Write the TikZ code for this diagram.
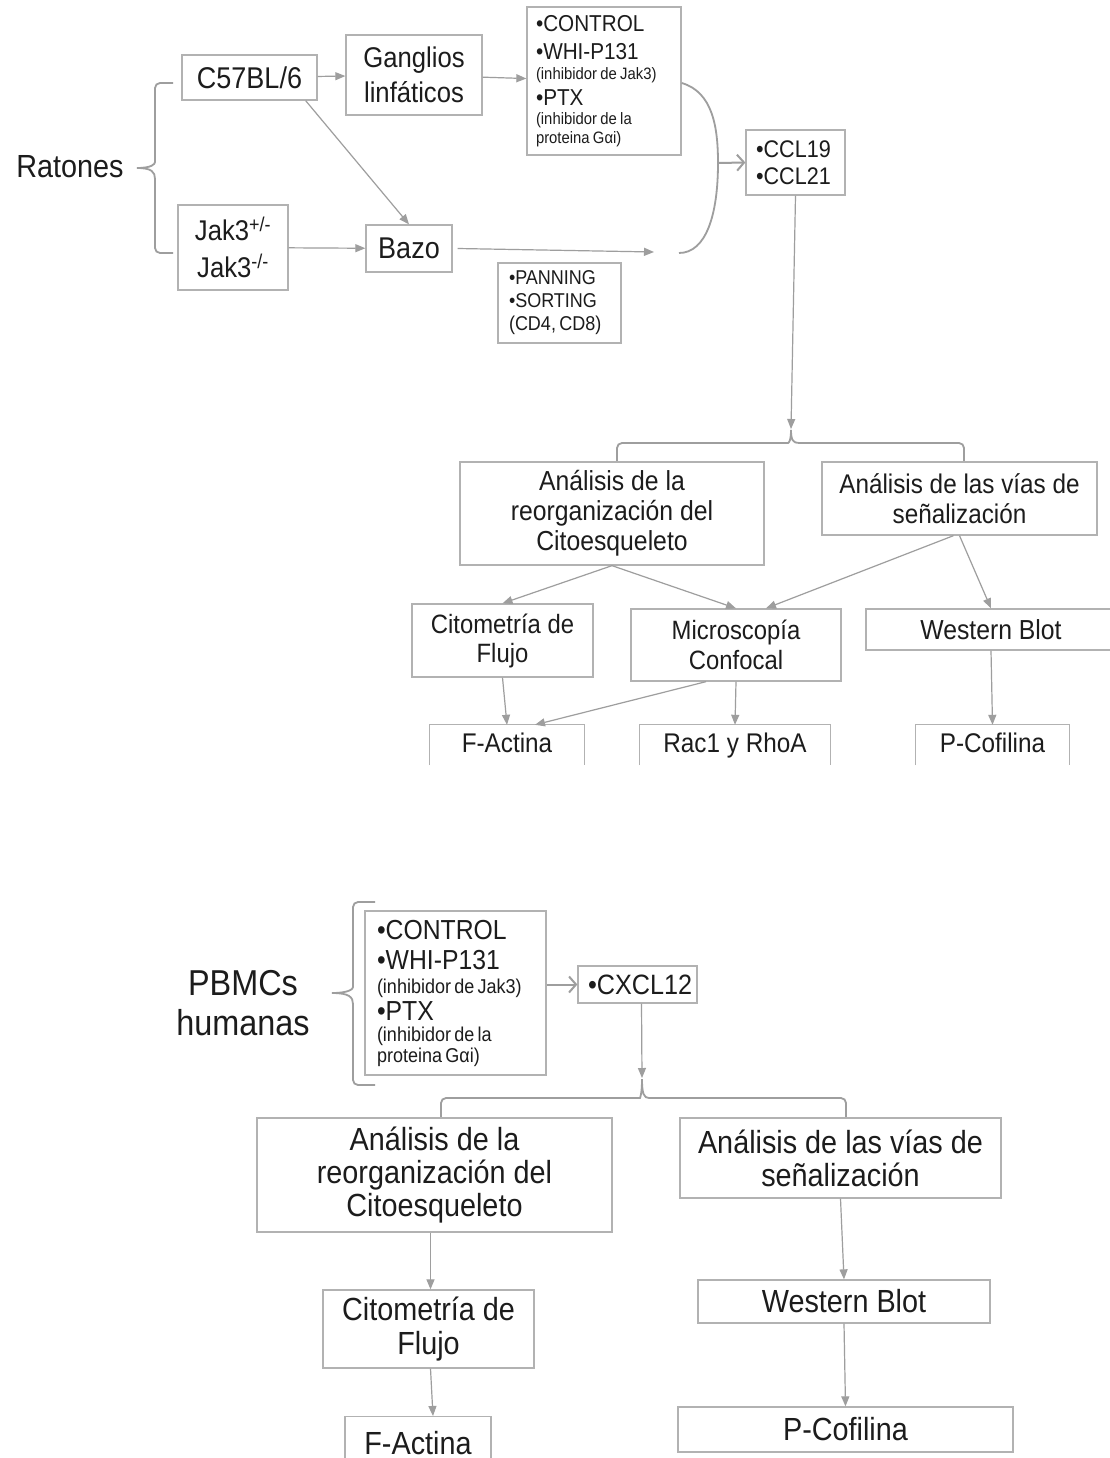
\documentclass[tikz,border=0pt]{standalone}
\usepackage{fontspec}
\setmainfont{Liberation Sans}[FakeStretch=0.9]
\usetikzlibrary{arrows.meta, calc}
\definecolor{boxgray}{RGB}{178,178,178}
\definecolor{linegray}{RGB}{158,158,158}
\definecolor{inkdark}{RGB}{28,28,28}
\newcommand{\fz}[2]{\fontsize{#1pt}{#2pt}\selectfont}
\setlength{\parindent}{0pt}

\begin{document}
\begin{tikzpicture}[x=1pt, y=-1pt,
    box/.style={draw=boxgray, line width=1.3pt, inner sep=3pt,
                align=center, text=inkdark},
    cutbox/.style={inner sep=3pt, align=center, text=inkdark,
                   text height=20pt, text depth=6pt},
    listbox/.style={box, align=left},
    boxline/.style={draw=boxgray, line width=1.3pt},
    arrow/.style={-{Triangle[length=10pt,width=8pt]}, linegray, line width=1.2pt},
    chev/.style={-{Straight Barb[length=7pt,width=16pt]}, linegray, line width=2pt},
    curve/.style={linegray, line width=1.8pt},
    bracket/.style={linegray, line width=1.8pt}]
  \useasboundingbox (0,0) rectangle (1110,1458);
  \clip (0,0) rectangle (1110,1458);
  \fill[white] (0,0) rectangle (1110,1458);

  % ratones
  \node[text=inkdark, font=\fz{32}{36}] (rat) at (70,167) {Ratones};
  \draw[bracket] (173,83) [rounded corners=5pt] -- (155,83) -- (155,157) [sharp corners]
        .. controls (155,164) and (152,168) .. (137,168)
        .. controls (152,168) and (155,172) .. (155,179) [rounded corners=5pt]
        -- (155,253) -- (173,253);
  \node[box, minimum width=135pt, minimum height=45pt, font=\fz{30}{32}]
       (c57) at (249.5,77.5) {C57BL/6};
  \node[box, minimum width=136pt, minimum height=80pt, font=\fz{28.5}{35}]
       (gang) at (414,75) {Ganglios\\linfáticos};
  \node[box, minimum width=110pt, minimum height=85pt, font=\fz{28.5}{37}]
       (jak) at (233,247.5) {Jak3\textsuperscript{+/-}\\Jak3\textsuperscript{-/-}};
  \node[box, minimum width=86pt, minimum height=47pt, font=\fz{30}{32}]
       (bazo) at (409,248.5) {Bazo};
  \node[listbox, text width=136pt, inner xsep=9pt, minimum height=148pt]
       (trt) at (604,81)
       {{\fz{23}{27}•CONTROL\par}{\fz{23}{28}•WHI-P131\par}%
        {\fz{16.5}{20}(inhibidor de Jak3)\par}{\fz{23}{26}•PTX\par}%
        {\fz{16.5}{19}(inhibidor de la\newline proteina Gαi)\par}};
  \node[listbox, text width=79pt, inner xsep=10pt, minimum height=65pt]
       (ccl) at (795.5,162.5)
       {{\fz{24}{27}•CCL19\par}{\fz{24}{27}•CCL21\par}};
  \node[listbox, text width=101pt, inner xsep=11pt, minimum height=80pt]
       (pan) at (559.5,303)
       {{\fz{20}{23}•PANNING\newline •SORTING\newline (CD4, CD8)\par}};

  \coordinate (bzend) at (654,252);
  \coordinate (join) at (679,253);
  \coordinate (mid) at (718,163);
  \coordinate (ctip) at (791,429);

  \draw[arrow] (c57) -- (gang);
  \draw[arrow] (gang) -- (trt);
  \draw[arrow] ([xshift=-12pt]c57.south east) -- (bazo.north);
  \draw[arrow] (jak) -- (bazo);
  \draw[arrow] ([xshift=5pt]bazo.east) -- (bzend);
  \draw[curve] ([yshift=-2pt]trt.east) .. controls (713,92) and (718,128) .. (mid)
               .. controls (718,215) and (706,253) .. (join);
  \draw[chev] (mid) -- (ccl.west);
  \draw[arrow] (ccl.south) -- (ctip);
  \draw[bracket] (617,462) [rounded corners=5pt] -- (617,443) -- (783,443) [sharp corners]
        .. controls (789,443) and (791,440) .. (791,430)
        .. controls (791,440) and (793,443) .. (799,443) [rounded corners=5pt]
        -- (964,443) -- (964,462);

  % analisis ratones
  \node[box, minimum width=304pt, minimum height=103pt, font=\fz{27.5}{30}]
       (reorg) at (612,513.5) {Análisis de la\\reorganización del\\Citoesqueleto};
  \node[box, minimum width=275pt, minimum height=73pt, font=\fz{27}{30}]
       (vias) at (959.5,498.5) {Análisis de las vías de\\señalización};
  \node[box, minimum width=181pt, minimum height=73pt, font=\fz{26.5}{29}]
       (cito) at (502.5,640.5) {Citometría de\\Flujo};
  \node[box, minimum width=210pt, minimum height=72pt, font=\fz{26.5}{30}]
       (micro) at (736,645) {Microscopía\\Confocal};
  \node[box, minimum width=250pt, minimum height=41pt, font=\fz{27.5}{30}]
       (wb) at (991,629.5) {Western Blot};
  \node[cutbox, minimum width=154pt, minimum height=40pt, font=\fz{27}{29}]
       (fact) at (507,745) {F-Actina};
  \node[cutbox, minimum width=190pt, minimum height=40pt, font=\fz{27}{29}]
       (rac) at (735,745) {Rac1 y RhoA};
  \node[cutbox, minimum width=153pt, minimum height=40pt, font=\fz{27}{29}]
       (pcof) at (992.5,745) {P-Cofilina};
  \draw[boxline] (fact.south west) |- (fact.north east) -- (fact.south east);
  \draw[boxline] (rac.south west) |- (rac.north east) -- (rac.south east);
  \draw[boxline] (pcof.south west) |- (pcof.north east) -- (pcof.south east);

  \draw[arrow] (reorg.south) -- (cito.north);
  \draw[arrow] (reorg.south) -- (micro.north);
  \draw[arrow] ([xshift=-6pt]vias.south) -- ([xshift=30pt]micro.north);
  \draw[arrow] (vias.south) -- (wb.north);
  \draw[arrow] (cito.south) -- (fact.north);
  \draw[arrow] ([xshift=-30pt]micro.south) -- ([xshift=28pt]fact.north);
  \draw[arrow] (micro.south) -- (rac.north);
  \draw[arrow] (wb.south) -- (pcof.north);

  % pbmcs
  \node[text=inkdark, align=center, font=\fz{36}{40}] (pbmc) at (243,1003)
       {PBMCs\\humanas};
  \draw[bracket] (375,902) [rounded corners=5pt] -- (353,902) -- (353,982) [sharp corners]
        .. controls (353,989) and (349,993) .. (332,993)
        .. controls (349,993) and (353,997) .. (353,1004) [rounded corners=5pt]
        -- (353,1085) -- (375,1085);
  \node[listbox, text width=157pt, inner xsep=12pt, minimum height=164pt]
       (trt2) at (455.5,993)
       {{\fz{27.5}{30}•CONTROL\par}{\fz{27.5}{30}•WHI-P131\par}%
        {\fz{20}{24}(inhibidor de Jak3)\par}{\fz{27.5}{27}•PTX\par}%
        {\fz{20}{21}(inhibidor de la\newline proteina Gαi)\par}};
  \node[listbox, text width=99pt, inner xsep=10pt, minimum height=37pt,
        font=\fz{28}{30}] (cxcl) at (637.5,984.5) {•CXCL12};
  \coordinate (ctip2) at (642,1078);
  \draw[chev] (trt2.east |- cxcl.west) -- (cxcl.west);
  \draw[arrow] ([xshift=4pt]cxcl.south) -- (ctip2);
  \draw[bracket] (441,1118) [rounded corners=5pt] -- (441,1098) -- (635,1098) [sharp corners]
        .. controls (640,1098) and (642,1094) .. (642,1079)
        .. controls (642,1094) and (644,1098) .. (649,1098) [rounded corners=5pt]
        -- (846,1098) -- (846,1118);

  \node[box, minimum width=355pt, minimum height=114pt, font=\fz{32}{33}]
       (reorg2) at (434.5,1175) {Análisis de la\\reorganización del\\Citoesqueleto};
  \node[box, minimum width=321pt, minimum height=80pt, font=\fz{32}{33}]
       (vias2) at (840.5,1158) {Análisis de las vías de\\señalización};
  \node[box, minimum width=211pt, minimum height=78pt, font=\fz{32}{34}]
       (cito2) at (428.5,1329) {Citometría de\\Flujo};
  \node[box, minimum width=292pt, minimum height=43pt, font=\fz{32}{34}]
       (wb2) at (844,1301.5) {Western Blot};
  \node[box, minimum width=146pt, minimum height=52pt, font=\fz{32}{34},
        anchor=north] (fact2) at (418,1416) {F-Actina};
  \node[box, minimum width=335pt, minimum height=45pt, font=\fz{32}{34}]
       (pcof2) at (845.5,1429.5) {P-Cofilina};

  \draw[arrow] ([xshift=-4pt]reorg2.south) -- ([xshift=2pt]cito2.north);
  \draw[arrow] ([xshift=2pt]cito2.south) -- ([xshift=15pt]fact2.north);
  \draw[arrow] (vias2.south) -- (wb2.north);
  \draw[arrow] (wb2.south) -- (pcof2.north);
\end{tikzpicture}
\end{document}
